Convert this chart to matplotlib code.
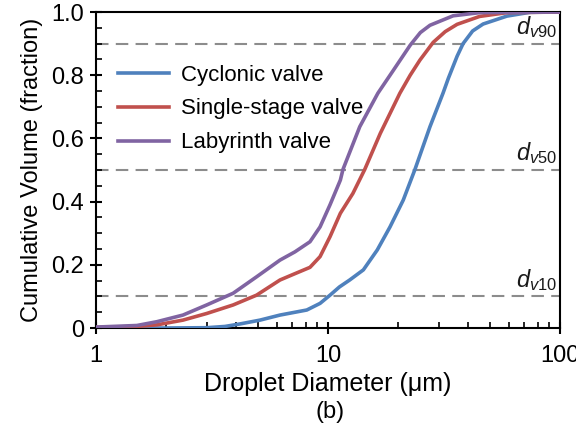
import matplotlib
matplotlib.use('agg')
import matplotlib.pyplot as plt
from matplotlib.ticker import MultipleLocator, LogLocator, NullFormatter

plt.rcParams['font.family'] = ['Liberation Sans', 'DejaVu Sans']
plt.rcParams['mathtext.fontset'] = 'custom'
plt.rcParams['mathtext.rm'] = 'Liberation Sans'
plt.rcParams['mathtext.it'] = 'Liberation Sans:italic'

# Cyclonic valve
cyc_d = [1, 2, 3, 3.6, 4.18, 5.09, 6.21, 8.1, 9.24, 10.2, 11.2, 12.4, 14.2, 16.3, 18.5,
         21.1, 23.7, 27.5, 31.3, 33, 36, 38.2, 42, 46.6, 59, 74, 100]
cyc_v = [0, 0, 0.001, 0.005, 0.013, 0.025, 0.041, 0.057, 0.078, 0.104, 0.13, 0.152, 0.184,
         0.247, 0.32, 0.405, 0.502, 0.637, 0.743, 0.79, 0.86, 0.9, 0.94, 0.962, 0.987, 0.999, 1.0]

# Single-stage valve
ss_d = [1, 1.5, 1.83, 2.37, 3.0, 3.9, 4.92, 6.21, 7.2, 8.36, 9.24, 10.2, 11.3, 12.8, 14.4,
        16.8, 20.4, 22.6, 24.9, 28.4, 32, 36, 45, 59, 100]
ss_v = [0.002, 0.005, 0.01, 0.025, 0.046, 0.073, 0.104, 0.152, 0.172, 0.192, 0.226, 0.289,
        0.363, 0.426, 0.502, 0.616, 0.743, 0.80, 0.848, 0.904, 0.938, 0.961, 0.986, 0.998, 1.0]

# Labyrinth valve
lab_d = [1, 1.5, 1.83, 2.37, 3.0, 3.9, 4.92, 6.21, 7.2, 8.36, 9.24, 10.2, 11.3, 11.6, 13.7,
         16.4, 19.1, 22.6, 25, 27.5, 34.6, 45, 100]
lab_v = [0.003, 0.008, 0.02, 0.041, 0.073, 0.11, 0.162, 0.215, 0.241, 0.273, 0.32, 0.39,
         0.468, 0.502, 0.637, 0.743, 0.815, 0.895, 0.935, 0.958, 0.988, 0.998, 1.0]

ref_levels = [0.9, 0.5, 0.1]
ref_labels = [r'$d_{v90}$', r'$d_{v50}$', r'$d_{v10}$']

fig = plt.figure(figsize=(5.76, 4.32), dpi=100)
ax = fig.add_axes([0.1667, 0.2407, 0.8056, 0.7315])

for lvl, lab in zip(ref_levels, ref_labels):
    ax.axhline(lvl, color='#8c8c8c', lw=1.5, ls=(0, (6, 3.5)), zorder=1)
    ax.text(97, lvl + 0.012, lab, ha='right', va='bottom', fontsize=17, color='#1a1a1a')

ax.plot(cyc_d, cyc_v, color='#4F81BD', lw=2.6, label='Cyclonic valve', zorder=3)
ax.plot(ss_d, ss_v, color='#C0504D', lw=2.6, label='Single-stage valve', zorder=3)
ax.plot(lab_d, lab_v, color='#8064A2', lw=2.6, label='Labyrinth valve', zorder=3)

ax.set_xscale('log')
ax.set_xlim(1, 100)
ax.set_ylim(0, 1)
ax.set_xticks([1, 10, 100])
ax.set_xticklabels(['1', '10', '100'])
ax.xaxis.set_minor_locator(LogLocator(base=10, subs=range(2, 10)))
ax.xaxis.set_minor_formatter(NullFormatter())
ax.set_yticks([0, 0.2, 0.4, 0.6, 0.8, 1.0])
ax.set_yticklabels(['0', '0.2', '0.4', '0.6', '0.8', '1.0'])
ax.yaxis.set_minor_locator(MultipleLocator(0.05))

ax.tick_params(which='major', direction='inout', length=9, width=1.5, labelsize=17, pad=4)
ax.tick_params(axis='x', which='major', pad=8)
ax.tick_params(which='minor', direction='in', length=4, width=1.2)
ax.tick_params(top=False, right=False, which='both')
for s in ax.spines.values():
    s.set_linewidth(1.5)

ax.set_xlabel('Droplet Diameter (\u03bcm)', fontsize=18, labelpad=3)
ax.set_ylabel('Cumulative Volume (fraction)', fontsize=17, labelpad=6)

ax.legend(loc='upper left', bbox_to_anchor=(0.028, 0.862), frameon=False, fontsize=16,
          handlelength=2.3, handletextpad=0.55, labelspacing=0.58, borderaxespad=0)

fig.text(0.573, 0.047, '(b)', ha='center', va='center', fontsize=17)

fig.savefig('out.png', dpi=100)
